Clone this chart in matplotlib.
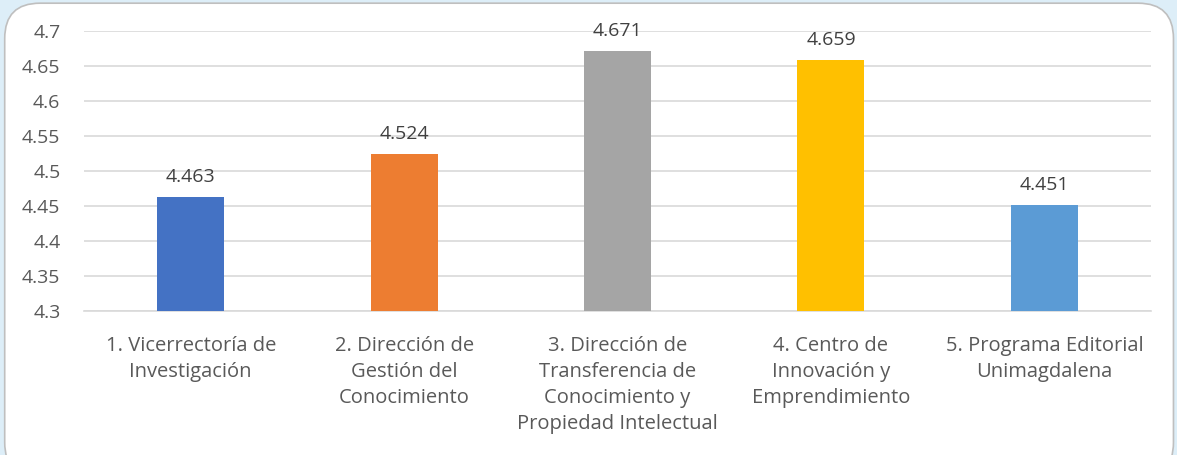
import matplotlib.pyplot as plt
from matplotlib.patches import FancyBboxPatch

plt.rcParams['font.family'] = ['Open Sans', 'DejaVu Sans']

categorias = ['1. Vicerrectoría de\nInvestigación',
              '2. Dirección de\nGestión del\nConocimiento',
              '3. Dirección de\nTransferencia de\nConocimiento y\nPropiedad Intelectual',
              '4. Centro de\nInnovación y\nEmprendimiento',
              '5. Programa Editorial\nUnimagdalena']
valores = [4.463, 4.524, 4.671, 4.659, 4.451]
colores = ['#4472C4', '#ED7D31', '#A5A5A5', '#FFC000', '#5B9BD5']
yticks = [4.3, 4.35, 4.4, 4.45, 4.5, 4.55, 4.6, 4.65, 4.7]
ytick_labels = ['4.3', '4.35', '4.4', '4.45', '4.5', '4.55', '4.6', '4.65', '4.7']

fig = plt.figure(figsize=(11.77, 4.55), dpi=100)
fig.patch.set_facecolor('#DDEEF8')

# recuadro blanco redondeado
caja = FancyBboxPatch((0.004, -0.05), 0.993, 1.043,
                      boxstyle='round,pad=0,rounding_size=0.03',
                      transform=fig.transFigure, facecolor='white',
                      edgecolor='#BFBFBF', linewidth=1.2,
                      mutation_aspect=1177 / 455, zorder=-10)
fig.patches.append(caja)

ax = fig.add_axes([0.0714, 0.3165, 0.9066, 0.6154])
ax.set_facecolor('none')
x = range(len(valores))
bars = ax.bar(x, valores, width=0.314, color=colores, zorder=3)
for i, v in enumerate(valores):
    ax.annotate(f'{v:.3f}', (i, v), xytext=(0, 8), textcoords='offset points',
                ha='center', va='bottom', fontsize=14, color='#404040')

ax.set_ylim(4.3, 4.7)
ax.set_xlim(-0.5, len(valores) - 0.5)
ax.set_yticks(yticks)
ax.set_yticklabels(ytick_labels)
ax.set_xticks(list(x))
ax.set_xticklabels(categorias, linespacing=1.4)
ax.tick_params(axis='both', length=0, labelsize=14, labelcolor='#595959')
ax.tick_params(axis='x', pad=18, labelsize=14.5)
ax.tick_params(axis='y', pad=17)
ax.grid(axis='y', color='#D9D9D9', linewidth=1.2, zorder=0)
for s in ['top', 'right', 'left']:
    ax.spines[s].set_visible(False)
ax.spines['bottom'].set_color('#D9D9D9')
ax.spines['bottom'].set_linewidth(1.2)

fig.savefig('out.png', dpi=100, facecolor=fig.get_facecolor())
